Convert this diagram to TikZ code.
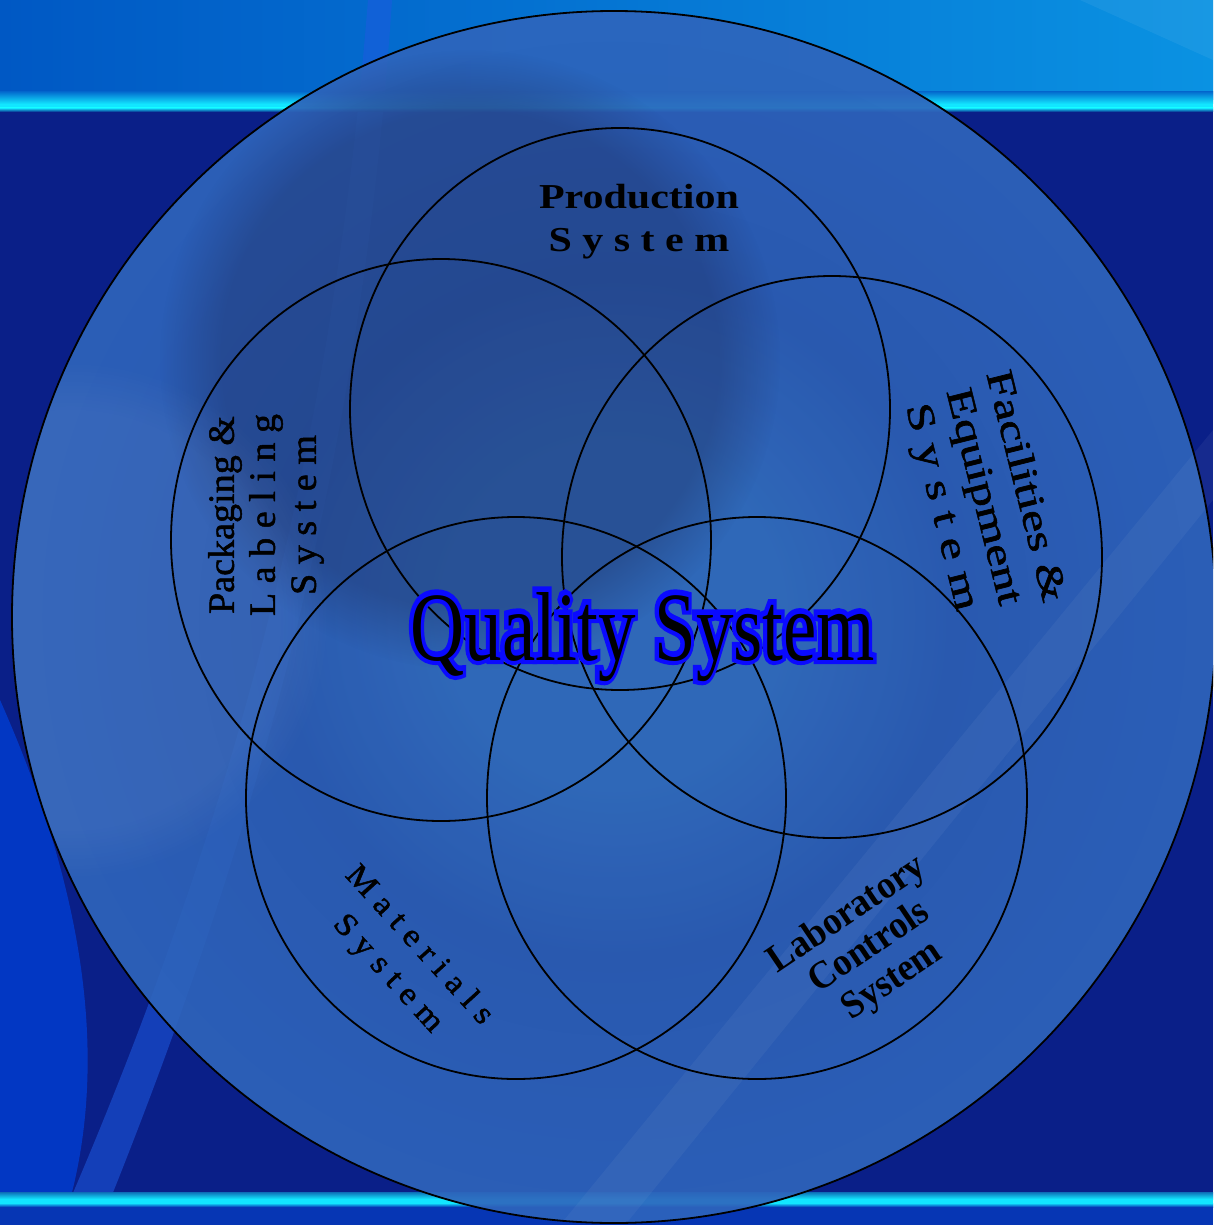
\documentclass[tikz,border=0pt]{standalone}
\usepackage{fontspec}
\setmainfont{Liberation Serif}
\newfontfamily\semibf[FakeBold=1.3]{Liberation Serif}
\newfontfamily\qoutline[FakeBold=10]{Liberation Serif}
\usetikzlibrary{calc,fadings}
\definecolor{bgnavy}{HTML}{0A1F88}
\definecolor{topL}{HTML}{0058C4}
\definecolor{topR}{HTML}{0A92E2}
\definecolor{cyanline}{HTML}{12E6FF}
\definecolor{botblue}{HTML}{0636B4}
\definecolor{streak}{HTML}{1E5AE0}
\definecolor{brightleft}{HTML}{0040D8}
\definecolor{rc0}{HTML}{3470BE}
\definecolor{rc1}{HTML}{2D60B4}
\definecolor{rc2}{HTML}{2F66BE}
\definecolor{rc3}{HTML}{3272D6}
\definecolor{rc4}{HTML}{3A7EE8}
\definecolor{slate}{HTML}{1E2E60}
\definecolor{qblue}{HTML}{0A0AFF}
\pgfdeclareradialshading{bigring}{\pgfpoint{0bp}{0bp}}{color(0bp)=(rc0); color(7bp)=(rc0); color(14bp)=(rc1); color(27bp)=(rc2); color(38bp)=(rc3); color(50bp)=(rc4)}
\begin{document}
\begin{tikzpicture}[x=1pt,y=-1pt,
  ringline/.style={draw=black, line width=1.8pt},
  lbl/.style={text=black, align=center, inner sep=0pt},
  qsblue/.style={text=qblue, inner sep=0pt, anchor=base, xscale=0.765, font=\qoutline\fontsize{98}{100}\selectfont},
  qsblack/.style={text=black, inner sep=0pt, anchor=base, xscale=0.765, font=\fontsize{98}{100}\selectfont}]
\useasboundingbox (0,0) rectangle (1213,1225);
\clip (0,0) rectangle (1213,1225);
% ---------- background ----------
\fill[bgnavy] (0,0) rectangle (1213,1225);
\shade[left color=topL, right color=topR] (0,0) rectangle (1213,100);
\fill[brightleft, opacity=0.75] (0,700) .. controls (80,880) and (110,1050) .. (70,1200) -- (0,1200) -- cycle;
\fill[streak, opacity=0.55] (368,0) -- (392,0) .. controls (360,480) and (250,850) .. (110,1200) -- (70,1200) .. controls (220,850) and (330,480) .. (368,0) -- cycle;
\fill[white, opacity=0.05] (560,1225) -- (625,1225) -- (1213,500) -- (1213,430) -- cycle;
\fill[white, opacity=0.06] (1080,0) -- (1213,0) -- (1213,60) -- cycle;
\fill[botblue] (0,1205) rectangle (1213,1225);
\shade[top color=topL!60!topR, bottom color=cyanline] (0,92) rectangle (1213,104);
\fill[cyanline] (0,104) rectangle (1213,108);
\shade[top color=cyanline, bottom color=bgnavy] (0,108) rectangle (1213,112);
\shade[top color=bgnavy!60!cyanline, bottom color=cyanline] (0,1192) rectangle (1213,1199);
\fill[cyanline] (0,1199) rectangle (1213,1203);
\shade[top color=cyanline, bottom color=botblue] (0,1203) rectangle (1213,1207);
% ---------- big circle ----------
\coordinate (bigc) at (614,617);
\shade[shading=bigring, opacity=0.9] (bigc) ellipse [x radius=602, y radius=606];
\begin{scope}
  \clip (bigc) ellipse [x radius=602, y radius=606];
  \fill[slate, opacity=0.38, path fading=circle with fuzzy edge 20 percent] (470,360) circle (310);
  \fill[white, opacity=0.06, path fading=circle with fuzzy edge 20 percent] (70,620) circle (260);
  \fill[white, opacity=0.04] (560,1225) -- (625,1225) -- (1213,500) -- (1213,430) -- cycle;
\end{scope}
\draw[ringline] (bigc) ellipse [x radius=602, y radius=606];
% ---------- five system circles ----------
\coordinate (cprod) at (620,409);
\coordinate (cpack) at (441,540);
\coordinate (cfac)  at (832,557);
\coordinate (cmat)  at (516,798);
\coordinate (clab)  at (757,798);
\foreach \c in {cprod,cpack,cfac,cmat,clab}
  \draw[ringline] (\c) ellipse [x radius=270, y radius=281];
% ---------- labels ----------
\node[lbl, font=\bfseries\fontsize{35}{43}\selectfont, xscale=1.2] (prod) at (639,222) {Production\\S y s t e m};
\node[lbl, font=\semibf\fontsize{37}{41}\selectfont, rotate=90, xscale=1.03] (pack) at (266,515) {Packaging \&\\L a b e l i n g\\S y s t e m};
\node[lbl, font=\semibf\fontsize{38}{43}\selectfont, rotate=-76, xscale=1.33] (fac) at (982,497) {Facilities \&\\Equipment\\S y s t e m};
\node[lbl, font=\semibf\fontsize{32}{42}\selectfont, rotate=-47.6, xscale=1.1] (mat) at (403,960) {M a t e r i a l s\\S y s t e m};
\node[lbl, font=\bfseries\fontsize{39}{40}\selectfont, rotate=34, xscale=0.94] (lab) at (870,948) {Laboratory\\Controls\\System};
% ---------- title ----------
\coordinate (qs) at (643,660);
\node[qsblue] (qsb) at ($(qs)+(-1.2,-0.8)$) {Quality System};
\node[qsblack] (qsk) at (qs) {Quality System};
\end{tikzpicture}
\end{document}
